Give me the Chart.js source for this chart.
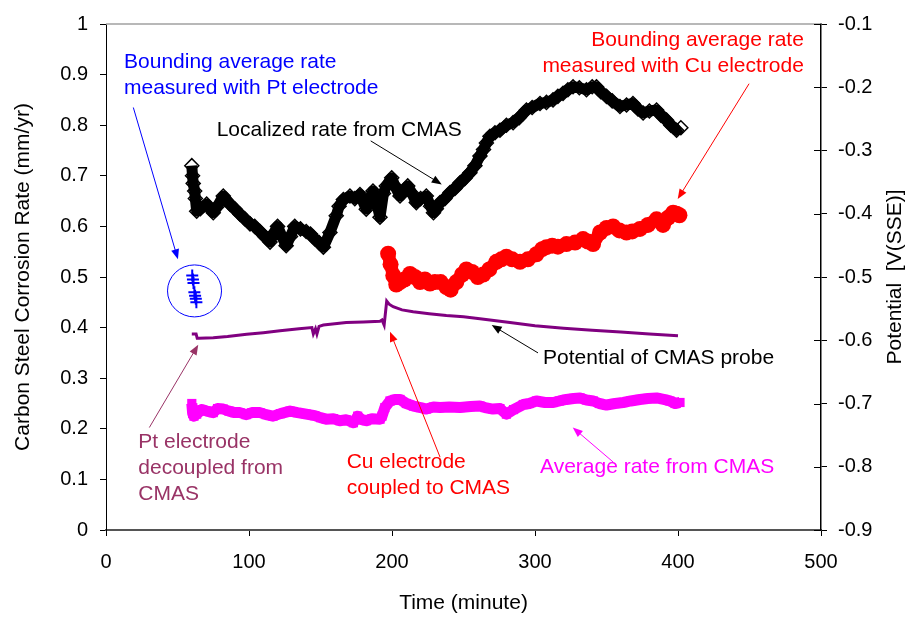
<!DOCTYPE html>
<html>
<head>
<meta charset="utf-8">
<script src="https://cdn.jsdelivr.net/npm/chart.js@4.4.1/dist/chart.umd.min.js"></script>
<style>
  html, body { margin: 0; padding: 0; background: #fff; }
  #wrap { width: 917px; height: 617px; }
</style>
</head>
<body>
<div id="wrap"><canvas id="chart" width="917" height="617"></canvas></div>
<script>
'use strict';

// Localized rate from CMAS (black open diamonds), mm/yr
const locTime = [60, 60.5, 61, 62, 62.5, 63.4, 66, 70.4, 75, 78, 82, 86.7, 90, 93.7, 97, 100.7, 104, 107.7, 111, 114.7,
  117, 120, 123, 126, 129, 132, 136, 140, 143, 146, 149, 152, 156.6, 161, 163, 166, 170.6, 174, 177.6, 182,
  186.7, 189, 191.6, 194, 196, 199.8, 202, 205.6, 208, 211, 214, 217, 220, 224, 227, 229, 231, 233.6, 237, 240.6,
  244, 247.6, 251, 254.5, 258, 261.5, 264, 266, 268.5, 272, 275.5, 280, 284.7, 289, 294, 298, 303.5, 308, 312.6, 316,
  319.6, 323, 326.6, 331, 336, 340, 343, 346, 350, 354, 359.4, 364, 368.5, 372, 375.6, 380, 385, 388, 392, 395, 399, 402];
const locRate = [0.72, 0.70, 0.685, 0.67, 0.655, 0.63, 0.635, 0.644, 0.627, 0.64, 0.66, 0.644, 0.635, 0.624, 0.615, 0.605, 0.60, 0.59, 0.58, 0.569,
  0.585, 0.60, 0.58, 0.562, 0.58, 0.60, 0.595, 0.59, 0.585, 0.575, 0.568, 0.559, 0.588, 0.621, 0.64, 0.653, 0.66, 0.655, 0.663, 0.634,
  0.67, 0.65, 0.618, 0.665, 0.68, 0.696, 0.68, 0.66, 0.67, 0.68, 0.665, 0.647, 0.655, 0.66, 0.64, 0.627, 0.635, 0.647, 0.655, 0.667,
  0.675, 0.686, 0.695, 0.706, 0.72, 0.739, 0.752, 0.765, 0.778, 0.785, 0.79, 0.80, 0.805, 0.815, 0.83, 0.835, 0.843, 0.845, 0.85, 0.857,
  0.863, 0.87, 0.876, 0.874, 0.87, 0.876, 0.876, 0.866, 0.857, 0.848, 0.837, 0.84, 0.843, 0.832, 0.824, 0.828, 0.83, 0.82, 0.81, 0.80, 0.79, 0.795];

// Bounding average rate measured with Cu electrode (red dots), mm/yr
const cuTime = [197.3, 199, 200.9, 203, 205.6, 208.7, 212.6, 216, 219.6, 223, 226.6, 230, 234, 238, 241, 245, 249, 252, 256, 260,
  263.8, 268, 273, 276.5, 280, 284, 289.5, 295, 301, 305, 308, 312, 316, 322, 328, 333.6, 337, 340.6, 345.5, 350,
  354.6, 359, 364, 368, 373.4, 379, 385, 389.5, 393, 396.6, 399, 401];
const cuRate = [0.546, 0.525, 0.503, 0.485, 0.49, 0.495, 0.506, 0.50, 0.49, 0.495, 0.487, 0.49, 0.49, 0.48, 0.475, 0.49, 0.505, 0.515, 0.51, 0.50,
  0.505, 0.515, 0.53, 0.535, 0.54, 0.535, 0.53, 0.535, 0.545, 0.555, 0.559, 0.562, 0.56, 0.565, 0.568, 0.575, 0.57, 0.565, 0.588, 0.597,
  0.60, 0.592, 0.588, 0.59, 0.595, 0.603, 0.614, 0.603, 0.617, 0.627, 0.625, 0.622];

// Bounding average rate measured with Pt electrode (blue crosses), mm/yr
const ptTime = [60.3, 60.8, 61.2, 61.8, 62.3, 62.8, 63.2];
const ptRate = [0.503, 0.495, 0.488, 0.47, 0.463, 0.457, 0.45];

// Potential of CMAS probe (purple line), V(SSE)
const potTime = [60, 63, 63.8, 65, 75, 85, 98.4, 110, 121.7, 135, 144, 145, 146.5, 147.5, 149, 152, 160, 168, 180, 191.6,
  193, 194.5, 196.3, 198, 200.8, 207, 214.8, 226, 238, 250, 261.5, 282.5, 300, 320, 340, 360, 380, 400];
const potValue = [-0.590, -0.590, -0.597, -0.597, -0.596, -0.594, -0.5905, -0.588, -0.585, -0.582, -0.580, -0.590, -0.582, -0.590, -0.578, -0.576, -0.574, -0.572, -0.571, -0.570,
  -0.568, -0.576, -0.538, -0.543, -0.547, -0.552, -0.555, -0.558, -0.561, -0.563, -0.566, -0.572, -0.577, -0.581, -0.584, -0.587, -0.590, -0.593];

// Average rate from CMAS (magenta squares), mm/yr
const avgTime = [60, 60.3, 60.6, 61.5, 63.4, 67, 70.4, 75, 78, 82, 86, 90, 93.7, 98, 102, 107.7, 112, 116.8, 122, 128.7,
  134, 140, 146, 150, 154, 159, 163.6, 168, 173, 176, 179, 182, 186, 191.6, 193, 195, 198.6, 202, 205.6, 210,
  215, 220, 224, 229, 233.6, 240, 247.6, 255, 261.5, 265, 270.6, 275.5, 280, 285, 291.8, 296, 301, 307, 312.8, 317,
  322, 327, 331.5, 336, 340.8, 345, 350, 356, 361.7, 367, 373.4, 379, 385, 390, 394.4, 398, 401.4];
const avgRate = [0.25, 0.24, 0.23, 0.225, 0.229, 0.238, 0.235, 0.232, 0.24, 0.239, 0.235, 0.232, 0.232, 0.228, 0.232, 0.232, 0.228, 0.225, 0.23, 0.235,
  0.232, 0.229, 0.226, 0.222, 0.219, 0.22, 0.216, 0.218, 0.212, 0.225, 0.218, 0.216, 0.22, 0.219, 0.225, 0.242, 0.255, 0.258, 0.258, 0.25,
  0.245, 0.242, 0.239, 0.243, 0.242, 0.243, 0.242, 0.244, 0.245, 0.242, 0.239, 0.24, 0.229, 0.238, 0.248, 0.25, 0.255, 0.252, 0.252, 0.255,
  0.258, 0.26, 0.261, 0.257, 0.255, 0.25, 0.247, 0.25, 0.252, 0.255, 0.258, 0.26, 0.261, 0.258, 0.255, 0.25, 0.252];

// Text notes and arrows, placed in data units (time, rate)
const notes = [
  { lines: ['Bounding average rate', 'measured with Pt electrode'], x: 12.6, y: 0.925, color: '#0000FF', align: 'left' },
  { lines: ['Localized rate from CMAS'], x: 77.4, y: 0.79, color: '#000000', align: 'left' },
  { lines: ['Bounding average rate', 'measured with Cu electrode'], x: 488, y: 0.967, color: '#FF0000', align: 'right' },
  { lines: ['Potential of CMAS probe'], x: 305.6, y: 0.339, color: '#000000', align: 'left' },
  { lines: ['Pt electrode', 'decoupled from', 'CMAS'], x: 22.6, y: 0.173, color: '#993366', align: 'left' },
  { lines: ['Cu electrode', 'coupled to CMAS'], x: 168.3, y: 0.134, color: '#FF0000', align: 'left' },
  { lines: ['Average rate from CMAS'], x: 303.5, y: 0.124, color: '#FF00FF', align: 'left' }
];
const arrows = [
  { from: [19.1, 0.835], to: [50.3, 0.535], color: '#0000FF' },
  { from: [185.1, 0.769], to: [234.8, 0.683], color: '#000000' },
  { from: [449.7, 0.882], to: [399.8, 0.654], color: '#FF0000' },
  { from: [302.1, 0.35], to: [269.7, 0.405], color: '#000000' },
  { from: [30.3, 0.2025], to: [64.5, 0.366], color: '#993366' },
  { from: [233.6, 0.144], to: [198.6, 0.392], color: '#FF0000' },
  { from: [354.8, 0.134], to: [326.4, 0.2025], color: '#FF00FF' }
];
const ptCircle = { x: 61.9, y: 0.4725 };

const FONT = "'Liberation Sans', Arial, sans-serif";

function pairs(xs, ys) {
  return xs.map((x, i) => ({ x: x, y: ys[i] }));
}

const annotationPlugin = {
  id: 'annotations',
  afterDraw(chart) {
    const ctx = chart.ctx;
    const xs = chart.scales.x;
    const ys = chart.scales.y;
    const ys2 = chart.scales.y2;
    const area = chart.chartArea;

    ctx.save();
    // gray frame line on top
    ctx.strokeStyle = '#A0A0A0';
    ctx.lineWidth = 1.5;
    ctx.beginPath();
    ctx.moveTo(area.left, area.top);
    ctx.lineTo(area.right, area.top);
    ctx.stroke();

    // right axis ticks also reach inside
    ctx.strokeStyle = '#000';
    ctx.lineWidth = 1;
    ys2.ticks.forEach(t => {
      const py = Math.round(ys2.getPixelForValue(t.value)) + 0.5;
      ctx.beginPath();
      ctx.moveTo(area.right - 7, py);
      ctx.lineTo(area.right, py);
      ctx.stroke();
    });

    // circle round the Pt points
    ctx.strokeStyle = '#0000FF';
    ctx.lineWidth = 1;
    ctx.beginPath();
    ctx.ellipse(xs.getPixelForValue(ptCircle.x), ys.getPixelForValue(ptCircle.y), 27, 26, 0, 0, Math.PI * 2);
    ctx.stroke();

    // arrows
    arrows.forEach(a => {
      const x1 = xs.getPixelForValue(a.from[0]);
      const y1 = ys.getPixelForValue(a.from[1]);
      const x2 = xs.getPixelForValue(a.to[0]);
      const y2 = ys.getPixelForValue(a.to[1]);
      const ang = Math.atan2(y2 - y1, x2 - x1);
      ctx.strokeStyle = a.color;
      ctx.fillStyle = a.color;
      ctx.lineWidth = 1;
      ctx.beginPath();
      ctx.moveTo(x1, y1);
      ctx.lineTo(x2 - 6 * Math.cos(ang), y2 - 6 * Math.sin(ang));
      ctx.stroke();
      ctx.beginPath();
      ctx.moveTo(x2, y2);
      ctx.lineTo(x2 - 10 * Math.cos(ang) + 4 * Math.sin(ang), y2 - 10 * Math.sin(ang) - 4 * Math.cos(ang));
      ctx.lineTo(x2 - 10 * Math.cos(ang) - 4 * Math.sin(ang), y2 - 10 * Math.sin(ang) + 4 * Math.cos(ang));
      ctx.closePath();
      ctx.fill();
    });

    // notes
    ctx.font = '21px ' + FONT;
    ctx.textBaseline = 'middle';
    notes.forEach(n => {
      ctx.fillStyle = n.color;
      ctx.textAlign = n.align;
      const px = xs.getPixelForValue(n.x);
      const py = ys.getPixelForValue(n.y);
      n.lines.forEach((line, i) => ctx.fillText(line, px, py + i * 26));
    });

    // right axis title, reading bottom to top
    ctx.fillStyle = '#000';
    ctx.textAlign = 'center';
    ctx.translate(895, (area.top + area.bottom) / 2);
    ctx.rotate(-Math.PI / 2);
    ctx.fillText('Potential  [V(SSE)]', 0, 0);
    ctx.restore();
  }
};

const ctx = document.getElementById('chart').getContext('2d');

new Chart(ctx, {
  type: 'scatter',
  data: {
    datasets: [
      {
        label: 'Pt electrode',
        data: pairs(ptTime, ptRate),
        yAxisID: 'y',
        pointStyle: 'cross',
        pointRadius: 6,
        borderColor: '#0000FF',
        borderWidth: 2,
        showLine: false
      },
      {
        label: 'Localized rate from CMAS',
        data: pairs(locTime, locRate),
        yAxisID: 'y',
        pointStyle: 'rectRot',
        pointRadius: 7,
        pointBorderWidth: 1.5,
        borderColor: '#000000',
        backgroundColor: 'rgba(255,255,255,0)',
        showLine: true,
        borderWidth: 11,
        borderJoinStyle: 'round'
      },
      {
        label: 'Cu electrode',
        data: pairs(cuTime, cuRate),
        yAxisID: 'y',
        pointStyle: 'circle',
        pointRadius: 8,
        pointBorderWidth: 0,
        borderColor: '#FF0000',
        backgroundColor: '#FF0000',
        showLine: true,
        borderWidth: 13,
        borderJoinStyle: 'round',
        borderCapStyle: 'round'
      },
      {
        label: 'Potential of CMAS probe',
        data: pairs(potTime, potValue),
        yAxisID: 'y2',
        pointRadius: 0,
        borderColor: '#800080',
        borderWidth: 3,
        showLine: true
      },
      {
        label: 'Average rate from CMAS',
        data: pairs(avgTime, avgRate),
        yAxisID: 'y',
        pointStyle: 'rect',
        pointRadius: 6.5,
        pointBorderWidth: 0,
        borderColor: '#FF00FF',
        backgroundColor: '#FF00FF',
        showLine: true,
        borderWidth: 11,
        borderJoinStyle: 'round'
      }
    ]
  },
  options: {
    responsive: false,
    animation: false,
    layout: { padding: { top: 20, left: 0, right: 0, bottom: 0 } },
    plugins: {
      legend: { display: false },
      tooltip: { enabled: false }
    },
    scales: {
      x: {
        type: 'linear',
        min: 0,
        max: 500,
        ticks: { stepSize: 100, color: '#000', padding: 14, font: { family: FONT, size: 20 }, maxRotation: 0 },
        grid: { drawOnChartArea: false, drawTicks: true, tickLength: 6, color: '#000' },
        border: { color: '#555', width: 2 },
        title: { display: true, text: 'Time (minute)', color: '#000', font: { family: FONT, size: 21 }, padding: { top: 0, bottom: 1 } },
        afterFit(scale) { scale.height = 87; }
      },
      y: {
        position: 'left',
        min: 0,
        max: 1,
        ticks: {
          stepSize: 0.1, color: '#000', padding: 12, font: { family: FONT, size: 20 },
          callback: v => String(Math.round(v * 10) / 10)
        },
        grid: { drawOnChartArea: false, drawTicks: true, tickLength: 6, color: '#000' },
        border: { color: '#000', width: 1 },
        title: { display: true, text: 'Carbon Steel Corrosion Rate (mm/yr)', color: '#000', font: { family: FONT, size: 21 }, padding: { top: 11, bottom: 0 } },
        afterFit(scale) { scale.width = 106; }
      },
      y2: {
        position: 'right',
        min: -0.9,
        max: -0.1,
        ticks: {
          stepSize: 0.1, color: '#000', padding: 11, font: { family: FONT, size: 20 },
          callback: v => String(Math.round(v * 10) / 10)
        },
        grid: { drawOnChartArea: false, drawTicks: true, tickLength: 6, color: '#000' },
        border: { color: '#000', width: 1.5 },
        afterFit(scale) { scale.width = 96; }
      }
    }
  },
  plugins: [annotationPlugin]
});
</script>
</body>
</html>
